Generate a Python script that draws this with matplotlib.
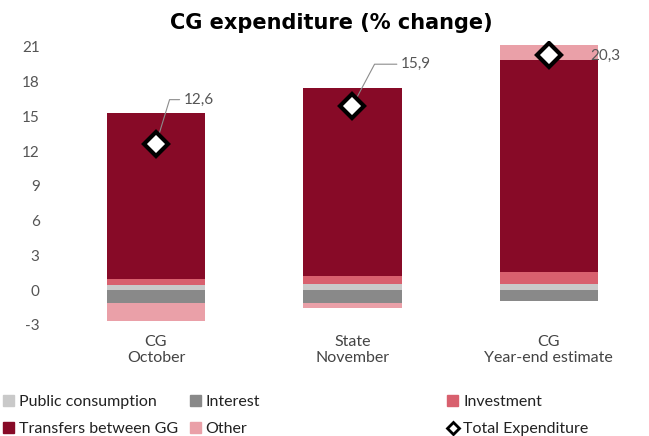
import numpy as np
import matplotlib.pyplot as plt
from matplotlib.patches import Patch
from matplotlib.lines import Line2D

# categories and components (% change contribution)
categories = ['CG\nOctober', 'State\nNovember', 'CG\nYear-end estimate']
public_consumption = [0.43, 0.49, 0.52]
interest = [-1.15, -1.15, -0.92]
investment = [0.55, 0.72, 1.06]
transfers_gg = [14.28, 16.26, 18.30]
other = [-1.50, -0.38, 1.30]
total = [12.6, 15.9, 20.3]
total_labels = ['12,6', '15,9', '20,3']

series = [
    ('Public consumption', public_consumption, '#c9c9c9'),
    ('Interest', interest, '#898989'),
    ('Investment', investment, '#d8606e'),
    ('Transfers between GG', transfers_gg, '#870a27'),
    ('Other', other, '#eaa0a8'),
]

plt.rcParams['font.family'] = ['Lato', 'DejaVu Sans']
plt.rcParams['axes.unicode_minus'] = False

fig = plt.figure(figsize=(6.49, 4.36), dpi=100)
ax = fig.add_axes([0.089, 0.239, 0.908, 0.667])

x = np.arange(len(categories))
pos_base = np.zeros(len(categories))
neg_base = np.zeros(len(categories))
for name, vals, color in series:
    vals = np.array(vals)
    bottom = np.where(vals >= 0, pos_base, neg_base)
    ax.bar(x, vals, width=0.5, bottom=bottom, color=color, edgecolor='none')
    pos_base += np.where(vals >= 0, vals, 0)
    neg_base += np.where(vals < 0, vals, 0)

ax.plot(x, total, linestyle='none', marker='D', markersize=12,
        markerfacecolor='white', markeredgecolor='black', markeredgewidth=3, zorder=5)

# value labels with leader lines
offsets = [(20, 32), (35, 30), (30, -1)]
angles = [73, 62, None]
for xi, yi, lab, off, ang in zip(x, total, total_labels, offsets, angles):
    if ang is None:
        ax.annotate(lab, xy=(xi, yi), xytext=off, textcoords='offset points',
                    ha='left', va='center', fontsize=11, color='#555555')
    else:
        ax.annotate(lab, xy=(xi, yi), xytext=off, textcoords='offset points',
                    ha='left', va='center', fontsize=11, color='#555555',
                    arrowprops=dict(arrowstyle='-', color='#8c8c8c', lw=0.8,
                                    shrinkA=1, shrinkB=0, relpos=(0, 0.5),
                                    connectionstyle=f'angle,angleA=0,angleB={ang},rad=0'),
                    zorder=4)

ax.set_xlim(-0.5, 2.5)
ax.set_ylim(-3.6, 21.5)
ax.set_yticks(np.arange(-3, 22, 3))
ax.set_xticks(x)
ax.set_xticklabels(categories, fontsize=11.5, color='#444444', linespacing=1.2)
ax.tick_params(axis='y', length=0, pad=13, labelsize=11, labelcolor='#555555')
ax.tick_params(axis='x', length=0, pad=2)
for s in ax.spines.values():
    s.set_visible(False)

fig.text(0.511, 0.948, 'CG expenditure (% change)', ha='center', va='center',
         fontsize=15, fontweight='bold', family='DejaVu Sans')

# legend, three columns
handles = [Patch(color=c) for _, _, c in series]
total_handle = Line2D([], [], linestyle='none', marker='D', markersize=6,
                      markerfacecolor='white', markeredgecolor='black', markeredgewidth=2)
columns = [
    ([handles[0], handles[3]], ['Public consumption', 'Transfers between GG'], 0.005),
    ([handles[1], handles[4]], ['Interest', 'Other'], 0.292),
    ([handles[2], total_handle], ['Investment', 'Total Expenditure'], 0.689),
]
for hs, labs, x0 in columns:
    fig.legend(hs, labs, loc='upper left', bbox_to_anchor=(x0, 0.094), frameon=False,
               fontsize=11.5, handlelength=0.7, handleheight=0.7, handletextpad=0.3,
               labelspacing=0.8, borderpad=0, borderaxespad=0, labelcolor='#222222')

fig.savefig('out.png', dpi=100)
